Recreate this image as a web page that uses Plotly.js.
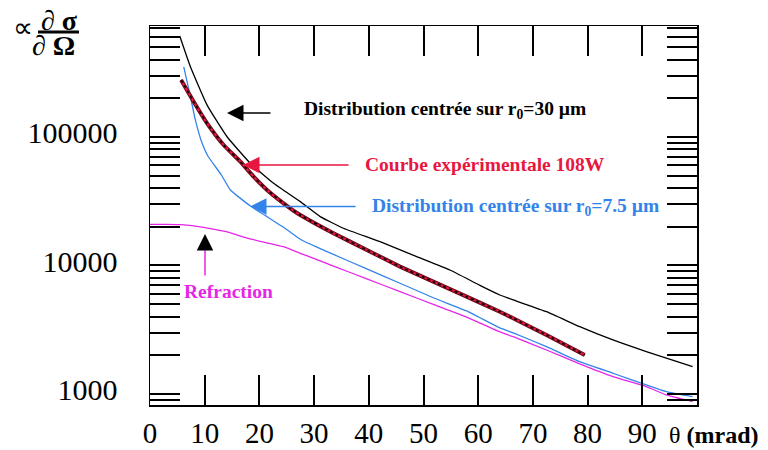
<!DOCTYPE html>
<html>
<head>
<meta charset="utf-8">
<script src="https://cdn.plot.ly/plotly-3.0.1.min.js"></script>
<style>html,body{margin:0;padding:0;background:#fff;}#chart{width:768px;height:450px;}</style>
</head>
<body>
<div id="chart"></div>
<script>
// ---- data (theta in mrad, cross-section arbitrary units) ----
const thetaR30 = [5.44, 7.39, 10.44, 14.09, 18.34, 22.59, 27.46, 31.11, 35.36, 42.06, 48.76, 54.84, 60.31, 63.96, 66.39, 72.48, 78.56, 84.64, 90.73, 99.2];
const sigmaR30 = [611000, 352000, 177000, 100400, 62400, 43600, 31400, 24000, 19480, 15310, 11710, 9220, 7000, 5890, 5390, 4366, 3340, 2630, 2135, 1632];

const thetaExp = [5.69, 7.99, 10.44, 13.47, 16.51, 18.94, 21.39, 25.64, 27.46, 33.54, 39.64, 45.71, 51.79, 57.88, 63.96, 66.39, 72.48, 79.47];
const sigmaExp = [277700, 188200, 127800, 86630, 64240, 49090, 38700, 27860, 24700, 17810, 13200, 9790, 7480, 5715, 4366, 3882, 2877, 2012];

const thetaR75 = [6.17, 7.39, 8.30, 9.53, 10.58, 13.05, 14.69, 18.34, 21.39, 24.73, 27.46, 30.51, 33.54, 39.64, 45.71, 51.79, 57.88, 63.96, 66.39, 72.48, 78.56, 84.64, 90.73, 94.38, 99.2];
const sigmaR75 = [350800, 205900, 135500, 89300, 71100, 50600, 38700, 29040, 23990, 19410, 16000, 13880, 12180, 9393, 7270, 5606, 4426, 3263, 2986, 2334, 1783, 1449, 1175, 1042, 953];

const thetaRef = [0, 3, 5.75, 9.82, 12.26, 14.09, 18.34, 24.42, 27.46, 30.51, 33.54, 39.64, 45.71, 51.79, 57.88, 63.96, 66.39, 72.48, 78.56, 84.64, 90.73, 94.38, 99.2];
const sigmaRef = [20920, 20920, 20800, 19820, 18890, 18230, 16070, 14000, 12440, 11100, 9890, 7864, 6254, 4982, 3960, 3038, 2792, 2198, 1712, 1363, 1140, 982, 871];

// ---- tick labels ----
const xTickVals = [0, 10, 20, 30, 40, 50, 60, 70, 80, 90, 100];
const xTickText = ['0', '10', '20', '30', '40', '50', '60', '70', '80', '90', ''];
const yMajorVals = [1000, 10000, 100000];
const yMajorText = ['1000', '10000', '100000'];
const yMinorMult = [2, 3, 4, 5, 6, 7, 8, 9];

const labelR30 = 'Distribution centrée sur r<sub>0</sub>=30 µm';
const labelExp = 'Courbe expérimentale 108W';
const labelR75 = 'Distribution centrée sur r<sub>0</sub>=7.5 µm';
const labelRef = 'Refraction';

// ---- build tick arrays ----
const yTickVals = [], yTickText = [];
yMajorVals.forEach((d, i) => { yTickVals.push(d); yTickText.push(yMajorText[i]); });
[100, 1000, 10000, 100000].forEach(d => {
  yMinorMult.forEach(m => { const v = d * m; if (v >= 900 && v <= 700000) { yTickVals.push(v); yTickText.push(''); } });
});

const RED = '#e8173f', BLUE = '#3384ea', MAG = '#e626e6';
const FONT = 'Liberation Serif, Times New Roman, serif';
const SM = 0.4;

const traces = [
  {x: thetaRef, y: sigmaRef, mode: 'lines', line: {color: MAG, width: 1.3, shape: 'spline', smoothing: SM}, hoverinfo: 'skip'},
  {x: thetaR75, y: sigmaR75, mode: 'lines', line: {color: BLUE, width: 1.3, shape: 'spline', smoothing: SM}, hoverinfo: 'skip'},
  {x: thetaR30, y: sigmaR30, mode: 'lines', line: {color: '#000', width: 1.3, shape: 'spline', smoothing: SM}, hoverinfo: 'skip'},
  {x: thetaExp, y: sigmaExp, mode: 'lines', line: {color: '#6a0818', width: 4, shape: 'spline', smoothing: SM}, hoverinfo: 'skip'},
  {x: thetaExp, y: sigmaExp, mode: 'lines', line: {color: RED, width: 2, shape: 'spline', smoothing: SM}, hoverinfo: 'skip'},
  {x: thetaExp, y: sigmaExp, mode: 'lines', line: {color: '#000', width: 1.6, dash: 'dot', shape: 'spline', smoothing: SM}, hoverinfo: 'skip'}
];

// pixel -> paper helpers for annotation placement
const L = 150, R = 697, T = 26, B = 405;
const px = v => (v - L) / (R - L);
const py = v => (B - v) / (B - T);

const txt = (text, x, y, color, size, anchor) => ({
  text, xref: 'paper', yref: 'paper', x: px(x), y: py(y), xanchor: anchor || 'left', yanchor: 'middle',
  showarrow: false, font: {family: FONT, size, color}
});
const arr = (x, y, ax, ay, color, head) => ({
  text: '', xref: 'paper', yref: 'paper', x: px(x), y: py(y), ax, ay, showarrow: true,
  arrowhead: head, arrowsize: 2.2, arrowwidth: 1.5, arrowcolor: color, standoff: 0, startstandoff: 0
});

const layout = {
  width: 768, height: 450,
  margin: {l: L, r: 768 - R, t: T, b: 450 - B},
  paper_bgcolor: '#fff', plot_bgcolor: '#fff',
  showlegend: false,
  font: {family: FONT, color: '#000'},
  xaxis: {
    range: [0, 100], showgrid: false, zeroline: false,
    showline: true, linecolor: '#000', linewidth: 1.5, mirror: 'ticks',
    ticks: 'inside', ticklen: 30, tickwidth: 2, tickcolor: '#000',
    tickmode: 'array', tickvals: xTickVals, ticktext: xTickText,
    tickfont: {family: FONT, size: 29, color: '#000'}, ticklabelstandoff: 2
  },
  yaxis: {
    type: 'log', range: [Math.log10(820), Math.log10(731000)], showgrid: false, zeroline: false,
    showline: true, linecolor: '#000', linewidth: 1.5, mirror: 'ticks',
    ticks: 'inside', ticklen: 30, tickwidth: 2, tickcolor: '#000',
    tickmode: 'array', tickvals: yTickVals, ticktext: yTickText,
    tickfont: {family: FONT, size: 30, color: '#000'}, ticklabelstandoff: 25, ticklabelshift: -4
  },
  annotations: [
    txt('<b>' + labelR30 + '</b>', 301.7, 110, '#000', 19.5),
    txt('<b>' + labelExp + '</b>', 363, 165, RED, 19.5),
    txt('<b>' + labelR75 + '</b>', 370, 206.7, BLUE, 19.5),
    txt('<b>' + labelRef + '</b>', 181.7, 291.7, MAG, 19.5),
    arr(227, 113, 45, 0, '#000', 2),
    arr(243, 165, 107, 0, RED, 2),
    arr(250, 206.5, 107, 0, BLUE, 2),
    arr(205, 250, 0, 27, MAG, 0),
    arr(205, 234, 0, 17, '#000', 2),
    txt('θ <b>(mrad)</b>', 667, 435, '#000', 24),
    txt('∝', 23, 28, '#000', 28, 'center'),
    txt('∂ <b>σ</b>', 59, 21, '#000', 28, 'center'),
    txt('∂ <b>Ω</b>', 53, 46, '#000', 28, 'center')
  ],
  shapes: [
    {type: 'line', xref: 'paper', yref: 'paper', x0: px(38), x1: px(79), y0: py(32), y1: py(32), line: {color: '#000', width: 3}}
  ]
};

Plotly.newPlot('chart', traces, layout, {staticPlot: true, displayModeBar: false});
</script>
</body>
</html>
